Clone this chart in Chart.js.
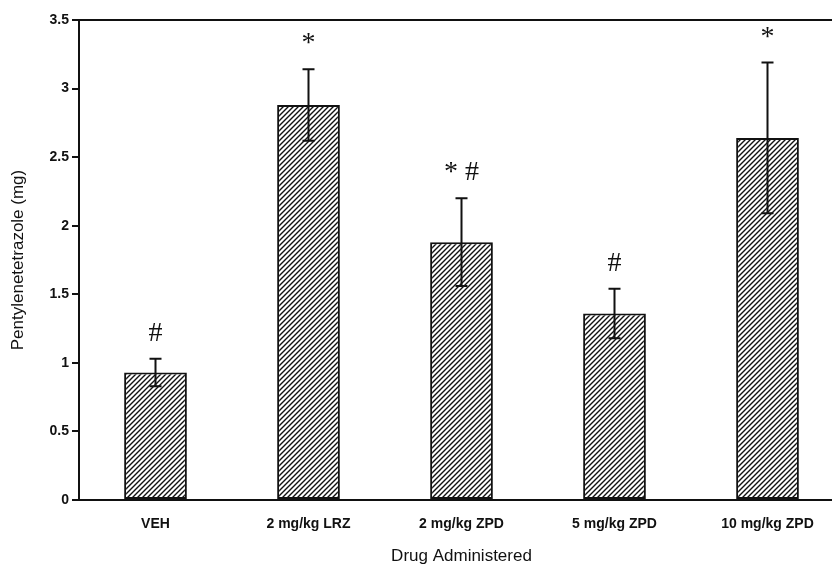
<!DOCTYPE html>
<html lang="en">
<head>
  <meta charset="UTF-8" />
  <title>Pentylenetetrazole by Drug Administered</title>
  <script src="https://cdn.jsdelivr.net/npm/chart.js"></script>
  <style>
    html, body { margin: 0; padding: 0; background: #fff; overflow: hidden; }
  </style>
</head>
<body>
  <canvas id="pentChart" width="845" height="567"></canvas>

  <script>
    const categories = ['VEH', '2 mg/kg LRZ', '2 mg/kg ZPD', '5 mg/kg ZPD', '10 mg/kg ZPD'];
    const means = [0.93, 2.88, 1.88, 1.36, 2.64];
    const errors = [0.10, 0.26, 0.32, 0.18, 0.55];
    const marks = ['#', '*', '* #', '#', '*'];
    const yTicks = [0, 0.5, 1, 1.5, 2, 2.5, 3, 3.5];

    // diagonal hatch fill
    function makeHatch() {
      const s = 5;
      const c = document.createElement('canvas');
      c.width = s; c.height = s;
      const g = c.getContext('2d');
      g.fillStyle = '#fff';
      g.fillRect(0, 0, s, s);
      g.strokeStyle = '#111';
      g.lineWidth = 1.4;
      g.beginPath();
      g.moveTo(-1, s + 1); g.lineTo(s + 1, -1);
      g.moveTo(-1, 1); g.lineTo(1, -1);
      g.moveTo(s - 1, s + 1); g.lineTo(s + 1, s - 1);
      g.stroke();
      return g.createPattern(c, 'repeat');
    }

    const extras = {
      id: 'extras',
      afterDatasetsDraw(chart) {
        const ctx = chart.ctx;
        const y = chart.scales.y;
        const meta = chart.getDatasetMeta(0);
        ctx.save();
        ctx.strokeStyle = '#111';
        ctx.lineWidth = 2;
        meta.data.forEach((bar, i) => {
          const top = y.getPixelForValue(means[i] + errors[i]);
          const bot = y.getPixelForValue(means[i] - errors[i]);
          ctx.beginPath();
          ctx.moveTo(bar.x, top); ctx.lineTo(bar.x, bot);
          ctx.moveTo(bar.x - 6, top); ctx.lineTo(bar.x + 6, top);
          ctx.moveTo(bar.x - 6, bot); ctx.lineTo(bar.x + 6, bot);
          ctx.stroke();
          ctx.fillStyle = '#111';
          ctx.font = '28px "Liberation Serif", serif';
          ctx.textAlign = 'center';
          ctx.textBaseline = 'alphabetic';
          ctx.fillText(marks[i], bar.x, top - 18);
        });
        // top frame line
        const a = chart.chartArea;
        ctx.beginPath();
        ctx.moveTo(a.left, a.top); ctx.lineTo(a.right, a.top);
        ctx.stroke();
        ctx.restore();
      }
    };

    new Chart(document.getElementById('pentChart'), {
      type: 'bar',
      data: {
        labels: categories,
        datasets: [{
          data: means,
          backgroundColor: makeHatch(),
          borderColor: '#111',
          borderWidth: 2,
          borderSkipped: false,
          barPercentage: 0.41,
          categoryPercentage: 1
        }]
      },
      options: {
        responsive: false,
        animation: false,
        layout: { padding: { top: 20, right: 1, bottom: 0, left: 0 } },
        plugins: { legend: { display: false }, tooltip: { enabled: false } },
        scales: {
          x: {
            grid: { display: false },
            border: { display: true, color: '#111', width: 2 },
            ticks: {
              color: '#111', padding: 8,
              font: { family: 'Liberation Sans, Arial', size: 14, weight: 'bold' }
            },
            title: {
              display: true, text: 'Drug Administered', color: '#111',
              font: { family: 'Liberation Sans, Arial', size: 17 },
              padding: { top: 16, bottom: 0 }
            },
            afterFit(s) { s.height = 67; }
          },
          y: {
            min: 0, max: 3.5,
            afterBuildTicks(s) { s.ticks = yTicks.map(v => ({ value: v })); },
            grid: { drawOnChartArea: false, tickLength: 7, color: '#111', lineWidth: 2 },
            border: { display: true, color: '#111', width: 2 },
            ticks: {
              color: '#111', padding: 3,
              font: { family: 'Liberation Sans, Arial', size: 14, weight: 'bold' },
              callback: v => String(v)
            },
            title: {
              display: true, text: 'Pentylenetetrazole (mg)', color: '#111',
              font: { family: 'Liberation Sans, Arial', size: 17 },
              padding: { top: 8, bottom: 0 }
            },
            afterFit(s) { s.width = 79; }
          }
        }
      },
      plugins: [extras]
    });
  </script>
</body>
</html>
